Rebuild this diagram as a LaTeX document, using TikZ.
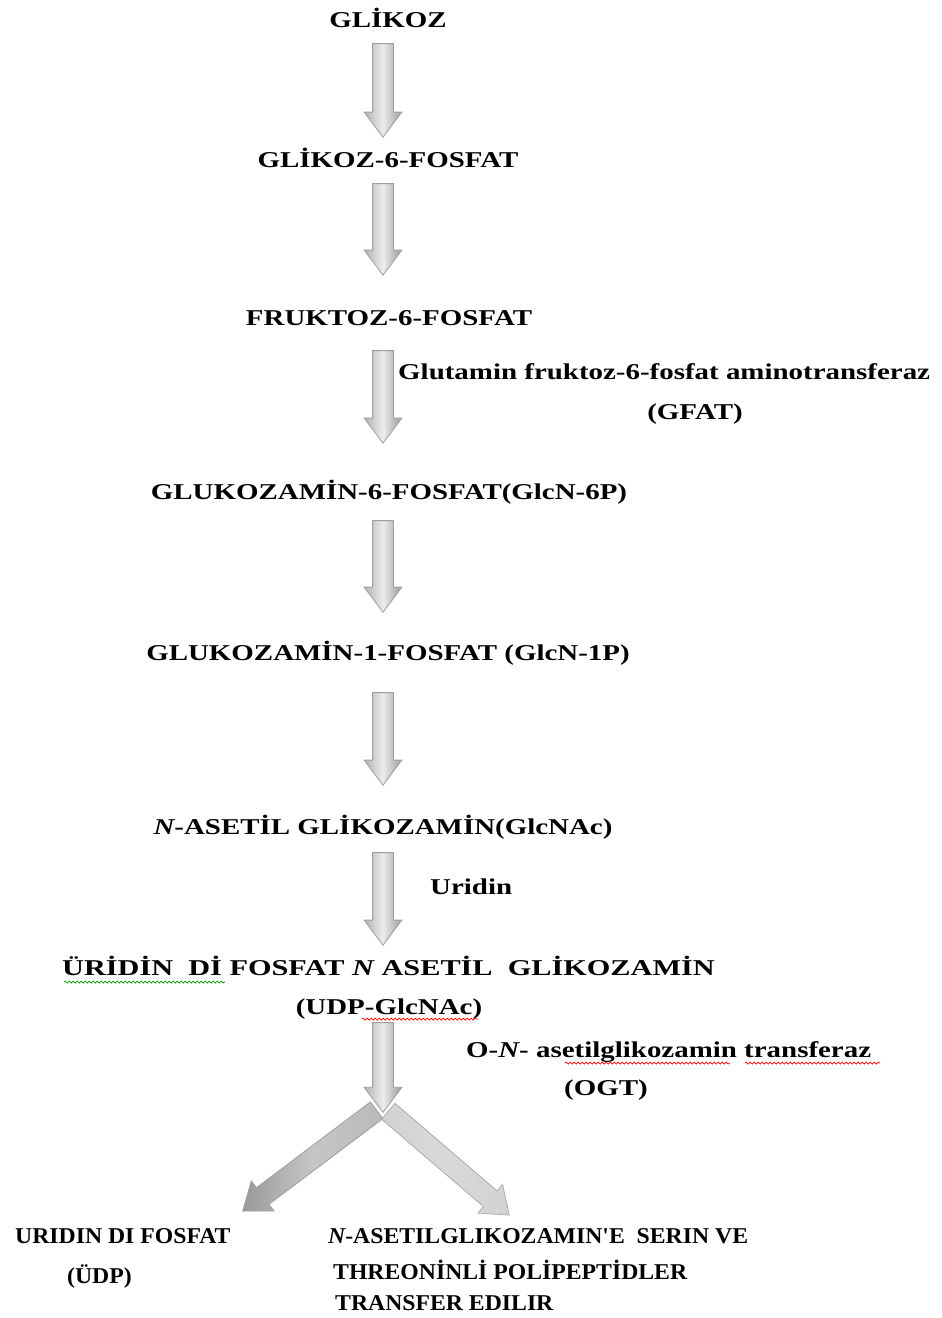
\documentclass[tikz,border=0pt]{standalone}
\usepackage{fontspec}
\usetikzlibrary{calc,shapes.arrows,decorations.pathmorphing}
\newfontfamily\widefont{Liberation Serif}[FakeStretch=1.28]
\newfontfamily\widerfont{Liberation Serif}[FakeStretch=1.34]
\newfontfamily\plainfont{Liberation Serif}[FakeStretch=1.05]

\tikzset{
    metab/.style={font=\widefont\bfseries\fontsize{22.6}{26}\selectfont,
        inner sep=0pt, text height=15pt, text depth=4pt},
    endprod/.style={metab, font=\plainfont\bfseries\fontsize{22.6}{26}\selectfont},
    flowarr/.style={single arrow, draw=gray!75, line width=0.8pt, inner sep=0pt,
        text height=10pt, text depth=10pt, anchor=tail,
        minimum width=37pt, single arrow head extend=8.5pt,
        single arrow tip angle=74, single arrow head indent=0pt,
        left color=gray!60, right color=gray!80, middle color=gray!15},
    leftarr/.style={flowarr, left color=gray!80, right color=gray!55, middle color=gray!45},
    rightarr/.style={flowarr, draw=gray!65, left color=gray!35, right color=gray!35, middle color=gray!30},
    spellg/.style={green!60!black, line width=0.7pt, decorate,
        decoration={snake, amplitude=1pt, segment length=4pt}},
    spellr/.style={spellg, red}
}

% block arrow from #2 to #3
\newcommand{\flowarrow}[3][flowarr]{%
    \path let \p1=(#2), \p2=(#3),
        \n1={veclen(\x2-\x1,\y2-\y1)}, \n2={atan2(\y2-\y1,\x2-\x1)} in
        node[#1, minimum height=\n1, rotate=\n2] at (\p1) {};}

\begin{document}
\begin{tikzpicture}[x=1pt,y=-1pt]
    \useasboundingbox (0,0) rectangle (942,1318);
    \coordinate (axis) at (383,0);
    \coordinate (fork) at (383,1112);

    \node [metab] (glikoz)  at (388,22)  {GLİKOZ};
    \node [metab] (gsix)    at (388,162) {GLİKOZ-6-FOSFAT};
    \node [metab] (fsix)    at (389,320) {FRUKTOZ-6-FOSFAT};
    \node [metab, anchor=west] (gfatname) at (398,374) {Glutamin fruktoz-6-fosfat aminotransferaz};
    \node [metab] (gfat)    at (695,414) {(GFAT)};
    \node [metab] (glcnsix) at (389,494) {GLUKOZAMİN-6-FOSFAT(GlcN-6P)};
    \node [metab] (glcnone) at (388,655) {GLUKOZAMİN-1-FOSFAT (GlcN-1P)};
    \node [metab] (glcnac)  at (383,829) {{\itshape N}-ASETİL GLİKOZAMİN(GlcNAc)};
    \node [metab, anchor=west] (uridin) at (430,889) {Uridin};
    \node [metab, anchor=west, font=\widerfont\bfseries\fontsize{22.6}{26}\selectfont] (udpname)
        at (62,970) {ÜRİDİN\ \ Dİ FOSFAT {\itshape N} ASETİL\ \ GLİKOZAMİN};
    \node [metab] (udpglc)  at (389,1009) {(UDP-GlcNAc)};
    \node [metab, anchor=west] (ogtname) at (466,1052) {O-{\itshape N}- asetilglikozamin transferaz};
    \node [metab] (ogt)     at (606,1090) {(OGT)};

    \node [endprod, anchor=west] (udp)       at (15,1238)  {URIDIN DI FOSFAT};
    \node [endprod, anchor=west] (udpshort)  at (67,1278)  {(ÜDP)};
    \node [endprod, anchor=west] (prodone)   at (328,1238) {{\itshape N}-ASETILGLIKOZAMIN'E\ \ SERIN VE};
    \node [endprod, anchor=west] (prodtwo)   at (333,1274) {THREONİNLİ POLİPEPTİDLER};
    \node [endprod, anchor=west] (prodthree) at (335,1305) {TRANSFER EDILIR};

    \foreach \from/\to/\gapa/\gapb in {glikoz/gsix/11.5/15.5, gsix/fsix/11.5/35.5,
        fsix/glcnsix/20.5/41.5, glcnsix/glcnone/16.5/33.5,
        glcnone/glcnac/27.5/34.5, glcnac/udpname/13.5/15.5}{%
        \flowarrow{$(\from.south -| axis)+(0,\gapa)$}{$(\to.north -| axis)+(0,-\gapb)$}}

    \flowarrow{$(udpglc.south -| axis)+(0,3.5)$}{fork}
    \flowarrow[leftarr]{$(fork)+(-6,-2)$}{$(udp.north west)+(228,-17.5)$}
    \flowarrow[rightarr]{$(fork)+(5,-1)$}{$(prodone.north west)+(181,-13.5)$}

    % spell check marks
    \draw [spellg] (64,982) -- (225,982);
    \draw [spellr] (362,1019) -- (478,1019);
    \draw [spellr] (565,1063) -- (730,1063);
    \draw [spellr] (745,1063) -- (880,1063);
\end{tikzpicture}
\end{document}
